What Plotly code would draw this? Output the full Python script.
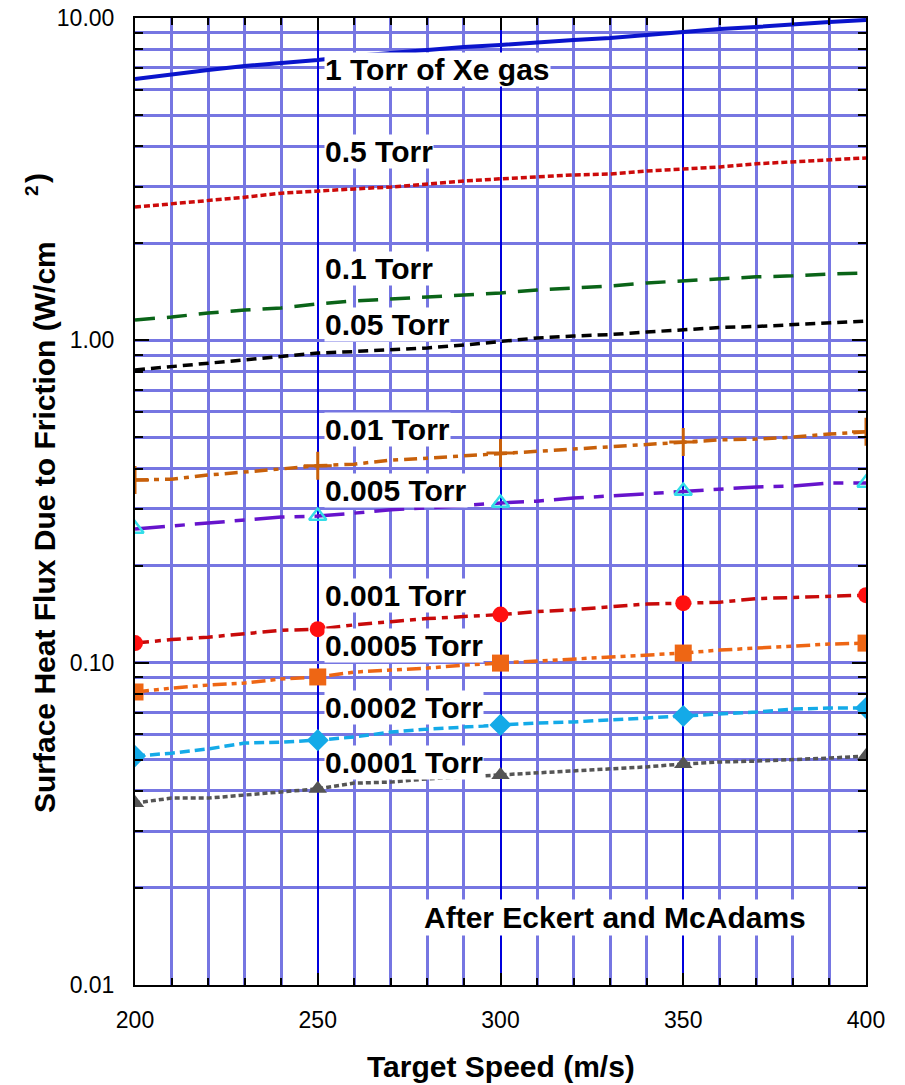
import plotly.graph_objects as go

# ---- data ----
speed = [200, 210, 220, 230, 240, 250, 260, 270, 280, 290, 300,
         310, 320, 330, 340, 350, 360, 370, 380, 390, 400]

q_1 = [6.47, 6.70, 6.90, 7.10, 7.25, 7.41, 7.62, 7.79, 7.96, 8.13, 8.25,
       8.42, 8.55, 8.67, 8.86, 9.05, 9.24, 9.38, 9.58, 9.72, 9.86]
q_05 = [2.59, 2.65, 2.72, 2.78, 2.86, 2.91, 2.95, 2.99, 3.06, 3.12, 3.17,
        3.21, 3.26, 3.28, 3.35, 3.40, 3.45, 3.53, 3.58, 3.62, 3.68]
q_01 = [1.157, 1.181, 1.215, 1.242, 1.260, 1.297, 1.325, 1.344, 1.363, 1.383, 1.403,
        1.433, 1.454, 1.475, 1.507, 1.529, 1.551, 1.574, 1.585, 1.607, 1.619]
q_005 = [0.809, 0.829, 0.850, 0.869, 0.888, 0.913, 0.923, 0.933, 0.947, 0.967, 0.992,
         1.017, 1.031, 1.042, 1.061, 1.076, 1.096, 1.104, 1.120, 1.136, 1.148]
q_001 = [0.369, 0.371, 0.382, 0.390, 0.399, 0.408, 0.413, 0.425, 0.431, 0.438, 0.447,
         0.454, 0.460, 0.467, 0.477, 0.484, 0.491, 0.494, 0.501, 0.512, 0.520]
q_0005 = [0.260, 0.266, 0.271, 0.277, 0.283, 0.285, 0.291, 0.298, 0.302, 0.308, 0.313,
          0.317, 0.324, 0.329, 0.334, 0.341, 0.346, 0.351, 0.353, 0.361, 0.361]
q_0001 = [0.115, 0.118, 0.120, 0.123, 0.126, 0.127, 0.131, 0.134, 0.137, 0.139, 0.141,
          0.144, 0.146, 0.149, 0.152, 0.153, 0.154, 0.158, 0.159, 0.160, 0.162]
q_00005 = [0.0811, 0.0834, 0.0852, 0.0865, 0.0890, 0.0903, 0.0935, 0.0949, 0.0962, 0.0983, 0.0997,
           0.1012, 0.1026, 0.1041, 0.1056, 0.1071, 0.1094, 0.1110, 0.1126, 0.1142, 0.1150]
q_00002 = [0.0513, 0.0524, 0.0540, 0.0563, 0.0567, 0.0575, 0.0588, 0.0609, 0.0622, 0.0632, 0.0641,
           0.0650, 0.0655, 0.0664, 0.0674, 0.0683, 0.0693, 0.0703, 0.0718, 0.0723, 0.0723]
q_00001 = [0.0367, 0.0380, 0.0380, 0.0389, 0.0397, 0.0406, 0.0423, 0.0426, 0.0436, 0.0442, 0.0448,
           0.0455, 0.0461, 0.0468, 0.0475, 0.0485, 0.0492, 0.0495, 0.0499, 0.0506, 0.0513]

labels = ["1 Torr of Xe gas", "0.5 Torr", "0.1 Torr", "0.05 Torr", "0.01 Torr",
          "0.005 Torr", "0.001 Torr", "0.0005 Torr", "0.0002 Torr", "0.0001 Torr"]
label_ypx = [70, 152, 268, 324, 429, 490, 595, 645, 707, 762]
credit = "After Eckert and McAdams"

x_title = "Target Speed (m/s)"
y_title = "Surface Heat Flux Due to Friction (W/cm"
y_sup = "2"
y_close = ")"

ytick_vals = [0.01, 0.1, 1, 10]
ytick_text = ["0.01", "0.10", "1.00", "10.00"]

# ---- styling ----
series = [
    (q_1, "#0a14cc", "solid", None),
    (q_05, "#cc0a0a", "6px,3px", None),
    (q_01, "#0a6418", "20px,12px", None),
    (q_005, "#000000", "10px,6px", None),
    (q_001, "#c8600a", "13px,6px,5px,6px", dict(symbol="cross-thin-open", size=20, color="#c8600a", line=dict(width=3, color="#c8600a"))),
    (q_0005, "#6614cc", "30px,10px,10px,10px", dict(symbol="triangle-up-open", size=15, color="#33dde8", line=dict(width=2.5, color="#33dde8"))),
    (q_0001, "#c80a0a", "14px,6px,6px,6px", dict(symbol="circle", size=16, color="#ff1010", line=dict(width=0))),
    (q_00005, "#ee6614", "14px,5px,5px,5px,5px,5px", dict(symbol="square", size=17, color="#ee6614", line=dict(width=0))),
    (q_00002, "#14aae8", "10px,5px", dict(symbol="diamond", size=17, color="#14aae8", line=dict(width=0))),
    (q_00001, "#555555", "5px,3px", dict(symbol="triangle-up", size=16, color="#555555", line=dict(width=0))),
]

fig = go.Figure()
mark_idx = [i for i, s in enumerate(speed) if s % 50 == 0]
for k, (vals, col, dash, mk) in enumerate(series):
    fig.add_trace(go.Scatter(x=speed, y=vals, mode="lines",
                             line=dict(color=col, width=4 if k == 0 else 3.5, dash=dash),
                             showlegend=False, hoverinfo="skip"))
    if mk is not None:
        fig.add_trace(go.Scatter(x=[speed[i] for i in mark_idx], y=[vals[i] for i in mark_idx],
                                 mode="markers", marker=mk, showlegend=False, hoverinfo="skip"))

W, H = 905, 1085
PL, PT, PR, PB = 135, 18, 866, 985          # plot area in pixels
L, T, R, B = PL, PT, W - PR, H - PB
pw, ph = PR - PL, PB - PT

def px2x(px):
    return (px - PL) / pw

def px2y(py):
    return (PB - py) / ph

FONT = "Liberation Sans, Arial, sans-serif"
grid_light = "#7676e2"
LBL = 30

annotations = []
for txt, ypx in zip(labels, label_ypx):
    annotations.append(dict(text="<b>%s</b>" % txt, x=px2x(324), y=px2y(ypx), xref="paper", yref="paper",
                            xanchor="left", yanchor="middle", showarrow=False, bgcolor="white",
                            borderpad=0, font=dict(family=FONT, size=LBL, color="black")))
annotations.append(dict(text="<b>%s</b>" % credit, x=px2x(422), y=px2y(917), xref="paper", yref="paper",
                        xanchor="left", yanchor="middle", showarrow=False, bgcolor="white",
                        borderpad=1, font=dict(family=FONT, size=LBL, color="black")))
annotations.append(dict(text="<b>%s</b>" % x_title, x=0.5, y=px2y(1066), xref="paper", yref="paper",
                        xanchor="center", yanchor="middle", showarrow=False,
                        font=dict(family=FONT, size=LBL, color="black")))
annotations.append(dict(text="<b>%s</b>" % y_title, x=px2x(44), y=px2y(527), xref="paper", yref="paper",
                        xanchor="center", yanchor="middle", textangle=-90, showarrow=False,
                        font=dict(family=FONT, size=LBL, color="black")))
annotations.append(dict(text="<b>%s</b>" % y_sup, x=px2x(31), y=px2y(191), xref="paper", yref="paper",
                        xanchor="center", yanchor="middle", textangle=-90, showarrow=False,
                        font=dict(family=FONT, size=19, color="black")))
annotations.append(dict(text="<b>%s</b>" % y_close, x=px2x(36), y=px2y(178), xref="paper", yref="paper",
                        xanchor="center", yanchor="middle", textangle=-90, showarrow=False,
                        font=dict(family=FONT, size=LBL, color="black")))

fig.update_layout(
    width=W, height=H,
    margin=dict(l=L, r=R, t=T, b=B, pad=0, autoexpand=False),
    paper_bgcolor="white", plot_bgcolor="white",
    annotations=annotations,
    font=dict(family=FONT, size=23, color="black"),
)
fig.update_xaxes(
    range=[200, 400], dtick=50, tick0=200,
    showline=True, linecolor="black", linewidth=2, mirror="allticks",
    ticks="inside", ticklen=12, tickwidth=2, tickcolor="black",
    showgrid=True, gridcolor="#0000dd", gridwidth=2,
    zeroline=False, ticklabelstandoff=13, automargin=False,
    tickfont=dict(family=FONT, size=23, color="black"),
    minor=dict(dtick=10, ticks="inside", ticklen=7, tickwidth=2, tickcolor="black",
               showgrid=True, gridcolor=grid_light, gridwidth=3),
)
fig.update_yaxes(
    type="log", range=[-2, 1],
    tickmode="array", tickvals=ytick_vals, ticktext=ytick_text,
    showline=True, linecolor="black", linewidth=2, mirror="allticks",
    ticks="inside", ticklen=14, tickwidth=2, tickcolor="black",
    showgrid=True, gridcolor=grid_light, gridwidth=3,
    zeroline=False, ticklabelstandoff=14, automargin=False,
    ticklabeloverflow="allow",
    tickfont=dict(family=FONT, size=23, color="black"),
    minor=dict(dtick="D1", ticks="inside", ticklen=8, tickwidth=2, tickcolor="black",
               showgrid=True, gridcolor=grid_light, gridwidth=3),
)

fig.write_html("out.html", config={"displayModeBar": False},
               post_script="document.body.style.margin='0px';")
